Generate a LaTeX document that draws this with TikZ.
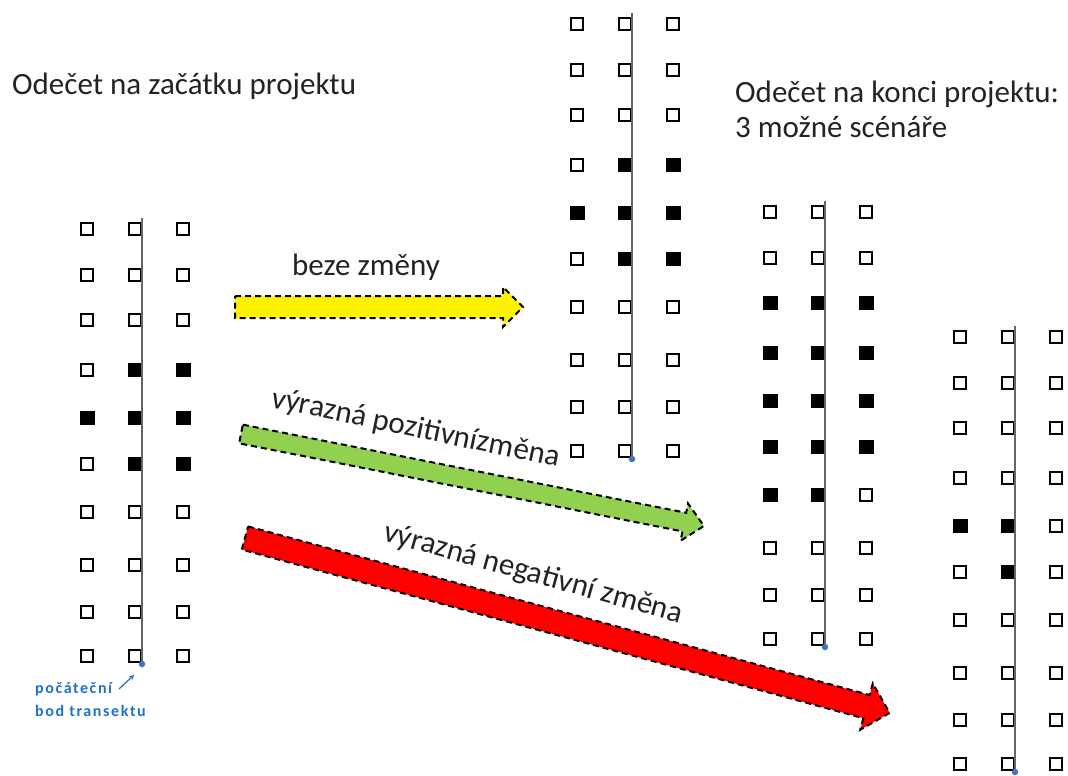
\documentclass[tikz,border=0pt]{standalone}
\usepackage{fontspec}
\setmainfont{Carlito}
\usetikzlibrary{arrows.meta}
\definecolor{ygreen}{RGB}{146,208,80}
\definecolor{lblue}{RGB}{30,115,200}
\definecolor{dotblue}{RGB}{70,115,190}
\definecolor{txt}{RGB}{35,35,35}

\def\patA{{0,0,0, 0,0,0, 0,0,0, 0,1,1, 1,1,1, 0,1,1, 0,0,0, 0,0,0, 0,0,0, 0,0,0}}
\def\patC{{0,0,0, 0,0,0, 1,1,1, 1,1,1, 1,1,1, 1,1,1, 1,1,0, 0,0,0, 0,0,0, 0,0,0}}
\def\patD{{0,0,0, 0,0,0, 0,0,0, 0,0,0, 1,1,0, 0,1,0, 0,0,0, 0,0,0, 0,0,0, 0,0,0}}

\newcommand{\transgrid}[4]{%
  \foreach \r in {1,...,10}{
    \foreach \c in {1,2,3}{
      \pgfmathtruncatemacro\cellv{#4[(\r-1)*3+\c-1]}
      \pgfmathsetmacro\cellx{#2+(\c-1)*48}
      \pgfmathsetmacro\celly{#3+{0,46,91,141,189,235,283,336,383,427}[\r-1]}
      \ifnum\cellv=1
        \node[fsq] (#1-\r-\c) at (\cellx,\celly) {};
      \else
        \node[osq] (#1-\r-\c) at (\cellx,\celly) {};
      \fi
    }
  }
  \coordinate (#1-top) at (#2+55,#3-11);
  \coordinate (#1-bot) at (#2+55,#3+435);
  \draw[transect] (#1-top) -- (#1-bot);
  \node[startdot] (#1-start) at (#1-bot) {};
}

\begin{document}
\begin{tikzpicture}[x=1pt,y=-1pt,
  osq/.style={draw=black, line width=2.3pt, minimum size=11.5pt, inner sep=0pt, fill=white},
  fsq/.style={fill=black, minimum width=15pt, minimum height=14pt, inner sep=0pt},
  transect/.style={draw=black!60, line width=2.6pt},
  startdot/.style={circle, fill=dotblue, minimum size=6.5pt, inner sep=0pt},
  blockarr/.style={draw=black, line width=2pt, dash pattern=on 6pt off 4pt, line join=miter},
  ttl/.style={font=\fontsize{31}{35}\selectfont, text=txt, inner sep=0pt},
  lbl/.style={font=\fontsize{31}{35}\selectfont, text=txt, inner sep=0pt},
  blue label/.style={font=\fontsize{16}{18}\selectfont\bfseries\addfontfeature{LetterSpace=10}, text=lblue, inner sep=0pt, anchor=base west}
]
\useasboundingbox (0,0) rectangle (1068,776);
\fill[white] (0,0) rectangle (1068,776);

% titles
\node[ttl, anchor=base west] (t1) at (12,95) {Odečet na začátku projektu};
\node[ttl, anchor=base west] (t2) at (735,102) {Odečet na konci projektu:};
\node[ttl, anchor=base west] (t3) at (735,137) {3 možné scénáře};

% grids
\transgrid{g1}{87}{229}{\patA}
\transgrid{g2}{577}{24}{\patA}
\transgrid{g3}{770}{212}{\patC}
\transgrid{g4}{960}{337}{\patD}

% start point label
\node[blue label] (sp1) at (35,693) {počáteční};
\node[blue label] (sp2) at (35,716) {bod transektu};
\coordinate (spa) at (119,689);
\coordinate (spb) at (134,675);
\draw[lblue, line width=1.2pt, -{Stealth[length=5pt,width=5pt]}] (spa) -- (spb);

% yellow arrow: beze změny
\coordinate (ya) at (235,307);
\begin{scope}[shift={(ya)}, rotate=0]
  \draw[blockarr, fill=yellow] (0,-11) -- (268,-11) -- (268,-20) -- (288,0) -- (268,20) -- (268,11) -- (0,11) -- cycle;
\end{scope}
\node[lbl, anchor=base west] (ylab) at (292,275) {beze změny};

% green arrow
\coordinate (ga) at (241,434);
\begin{scope}[shift={(ga)}, rotate=-11.24]
  \draw[blockarr, fill=ygreen] (0,-9.5) -- (452,-9.5) -- (452,-19) -- (472,0) -- (452,19) -- (452,9.5) -- (0,9.5) -- cycle;
\end{scope}
\node[lbl, anchor=base, rotate=-11.8] (glab) at (414,437) {výrazná pozitivnízměna};

% red arrow
\coordinate (ra) at (245,538);
\begin{scope}[shift={(ra)}, rotate=-15.18]
  \draw[blockarr, fill=red] (0,-12) -- (644,-12) -- (644,-24) -- (668,0) -- (644,24) -- (644,12) -- (0,12) -- cycle;
\end{scope}
\node[lbl, anchor=base, rotate=-15.5] (rlab) at (531,582) {výrazná negativní změna};
\end{tikzpicture}
\end{document}
